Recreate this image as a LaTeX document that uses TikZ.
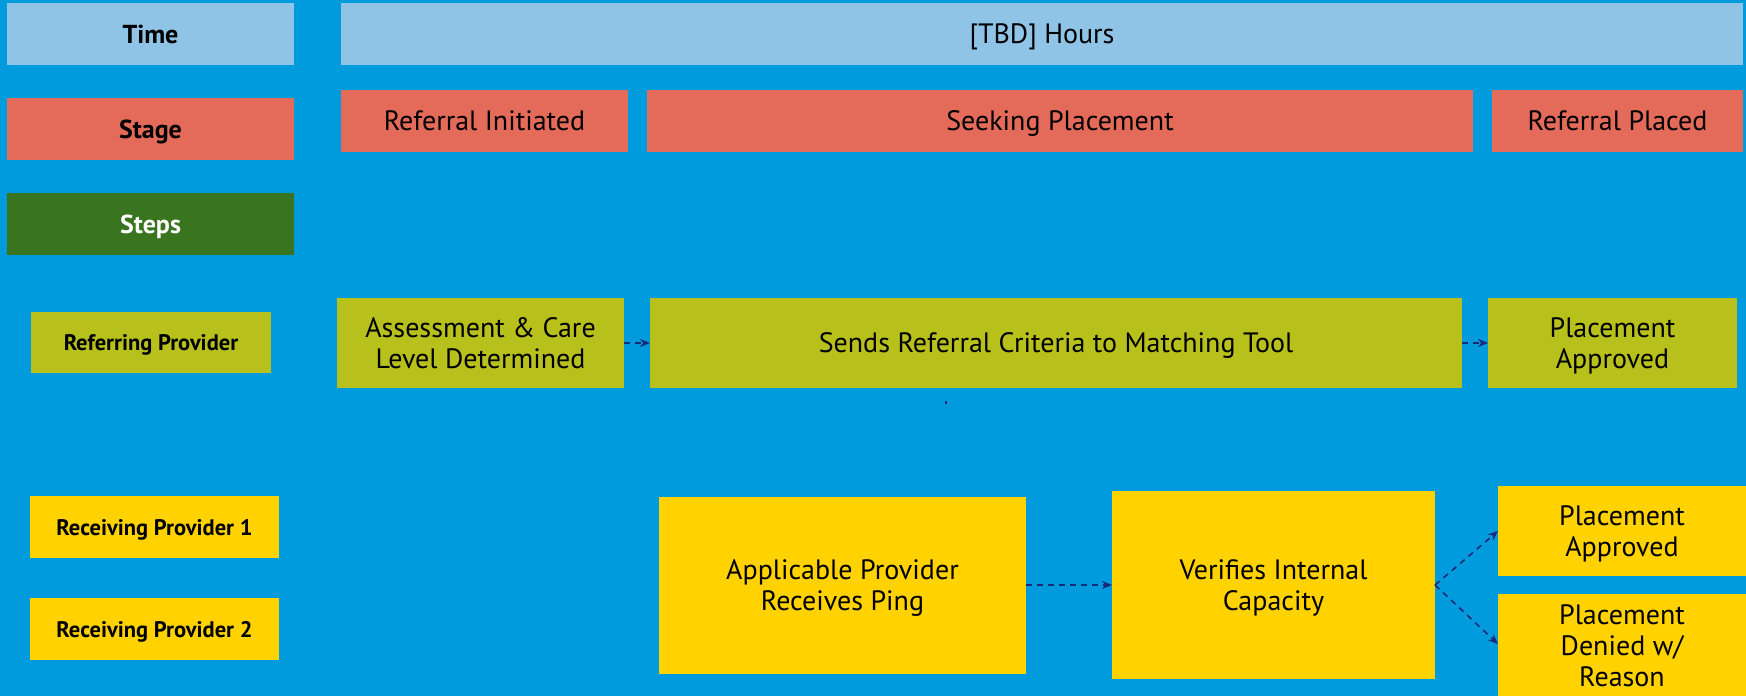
\documentclass[tikz,border=0pt]{standalone}
\usepackage{fontspec}
\setmainfont{PT Sans}
\usetikzlibrary{arrows.meta}
\definecolor{bgblue}{HTML}{009BDD}
\definecolor{lightblue}{HTML}{8FC4E7}
\definecolor{stagered}{HTML}{E46B59}
\definecolor{stepgreen}{HTML}{38751E}
\definecolor{olive}{HTML}{B8C11C}
\definecolor{gold}{HTML}{FFD200}
\definecolor{navy}{HTML}{1B2A78}
\tikzset{
  cell/.style={anchor=north west, inner sep=0pt, outer sep=0pt, align=center,
    text depth=0pt, text=black, font=\fontsize{28}{31}\selectfont},
  label/.style={cell, font=\bfseries\fontsize{26}{30}\selectfont},
  small/.style={cell, font=\bfseries\fontsize{22.5}{26}\selectfont},
  flow/.style={navy, line width=1.6pt, dash pattern=on 6pt off 5pt,
    -{Stealth[length=10pt,width=8pt]}},
}
% place a box by its two corners (x1,y1) and (x2,y2), in pixels from the top left
\newcommand\cellbox[7]{%
  \pgfmathsetmacro\cw{#5-#3}\pgfmathsetmacro\ch{#6-#4}%
  \node[#1, minimum width=\cw pt, minimum height=\ch pt] (#2) at (#3,#4) {#7};}
\begin{document}
\begin{tikzpicture}[x=1pt,y=-1pt]
\useasboundingbox (0,0) rectangle (1746,696);
\fill[bgblue] (0,0) rectangle (1746,696);
\begin{scope}
\clip (0,0) rectangle (1746,696);
% header rows
\cellbox{label, fill=lightblue}{time}{7}{3}{294}{65}{Time}
\cellbox{cell, fill=lightblue}{hours}{341}{3}{1743}{65}{[TBD] Hours}
\cellbox{label, fill=stagered}{stage}{7}{98}{294}{160}{Stage}
\cellbox{cell, fill=stagered}{initiated}{341}{90}{628}{152}{Referral Initiated}
\cellbox{cell, fill=stagered}{seeking}{647}{90}{1473}{152}{Seeking Placement}
\cellbox{cell, fill=stagered}{placed}{1492}{90}{1743}{152}{Referral Placed}
\cellbox{label, fill=stepgreen, text=white}{steps}{7}{193}{294}{255}{Steps}
% referring provider lane
\cellbox{small, fill=olive}{refprov}{31}{312}{271}{373}{Referring Provider}
\cellbox{cell, fill=olive}{assess}{337}{298}{624}{388}{Assessment \& Care\\Level Determined}
\cellbox{cell, fill=olive}{sends}{650}{298}{1462}{388}{Sends Referral Criteria to Matching Tool}
\cellbox{cell, fill=olive}{approvedA}{1488}{298}{1737}{388}{Placement\\Approved}
% receiving provider lanes
\cellbox{small, fill=gold}{recvA}{30}{496}{279}{558}{Receiving Provider 1}
\cellbox{small, fill=gold}{recvB}{30}{598}{279}{660}{Receiving Provider 2}
\cellbox{cell, fill=gold}{ping}{659}{497}{1026}{674}{Applicable Provider\\Receives Ping}
\cellbox{cell, fill=gold}{verify}{1112}{491}{1435}{679}{Verifies Internal\\Capacity}
\cellbox{cell, fill=gold}{approvedB}{1498}{486}{1746}{576}{Placement\\Approved}
\cellbox{cell, fill=gold}{denied}{1498}{594}{1746}{698}{Placement\\Denied w/\\Reason}
% connectors
\draw[flow] (assess.east) -- (sends.west);
\draw[flow] (sends.east) -- (approvedA.west);
\draw[flow] (ping.east |- verify.east) -- (verify.west);
\draw[flow] (verify.east) -- (approvedB.west);
\draw[flow] (verify.east) -- (denied.west |- 0,644);
\fill[navy] (945,401) rectangle (947,404);
\end{scope}
\end{tikzpicture}
\end{document}
